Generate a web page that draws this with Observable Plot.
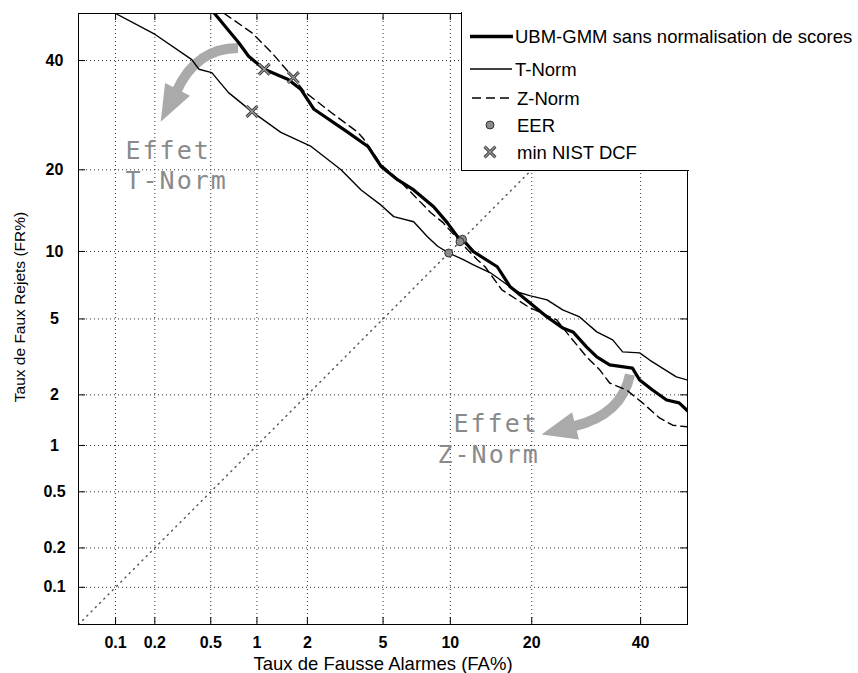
<!DOCTYPE html>
<html><head><meta charset="utf-8">
<script src="https://cdn.jsdelivr.net/npm/d3@7"></script>
<script src="https://cdn.jsdelivr.net/npm/@observablehq/plot@0.6"></script>
<style>
body{margin:0;background:#fff;}
#wrap{position:relative;width:858px;height:673px;overflow:hidden;}
#wrap > svg{position:absolute;left:0;top:0;}
#legendBox{position:absolute;left:461px;top:12px;width:227px;height:158px;background:#fff;border-left:1px solid #000;border-bottom:1px solid #000;}
#legendSvg{position:absolute;left:0;top:0;}
</style></head><body><div id="wrap"></div>
<script>
// ---- data (percent) ----
const tickValues = [0.1, 0.2, 0.5, 1, 2, 5, 10, 20, 40];
const tickLabels = ["0.1", "0.2", "0.5", "1", "2", "5", "10", "20", "40"];
const axisRange = [0.05, 50];

const ubmFA = [0.53, 0.764, 0.886, 1.11, 1.55, 1.84, 2.18, 3.33, 4.21, 4.89, 5.88, 6.95, 8.51, 9.71, 10.7, 11.2, 12.37, 15.2, 16.9, 19.7, 22.4, 25.0, 26.8, 29.3, 31.2, 33.7, 38.3, 39.8, 42.5, 45.5, 48.2, 50];
const ubmFR = [50, 43.8, 40.9, 38.2, 36.1, 34.1, 30.3, 26.1, 23.7, 20.5, 18.5, 17.1, 14.9, 13.0, 11.47, 11.2, 9.98, 8.63, 7.05, 5.96, 5.11, 4.52, 4.32, 3.62, 3.22, 2.92, 2.81, 2.42, 2.13, 1.87, 1.80, 1.62];

const tnormFA = [0.100, 0.201, 0.370, 0.415, 0.508, 0.657, 0.926, 1.40, 2.10, 3.06, 3.89, 4.89, 5.62, 6.95, 8.00, 8.85, 9.83, 11.29, 12.37, 14.35, 16.5, 18.25, 19.7, 22.4, 25.0, 28.0, 31.2, 34.3, 36.3, 39.8, 41.9, 44.6, 47.6, 50];
const tnormFR = [50, 45.5, 40.2, 38.2, 37.5, 33.5, 29.9, 26.1, 23.7, 20.0, 17.1, 15.1, 13.7, 13.1, 11.47, 10.5, 9.87, 9.24, 8.8, 8.13, 7.2, 6.63, 6.43, 6.15, 5.52, 5.11, 4.32, 3.94, 3.42, 3.38, 3.10, 2.81, 2.52, 2.42];

const znormFA = [0.616, 0.926, 1.23, 1.66, 1.92, 2.71, 3.75, 4.02, 4.89, 6.07, 8.25, 9.33, 10.95, 12.8, 13.7, 15.8, 19.7, 24.0, 26.3, 29.3, 31.8, 33.7, 37.1, 40.4, 44.0, 46.8, 50];
const znormFR = [50, 45.9, 41.7, 36.5, 33.7, 29.7, 26.1, 24.9, 20.8, 18.2, 14.2, 13.0, 10.95, 9.24, 8.63, 6.83, 5.65, 4.95, 4.08, 3.22, 2.74, 2.33, 2.13, 1.80, 1.47, 1.33, 1.30];

const eerSystems = ["UBM-GMM", "Z-Norm", "T-Norm"];
const eerValues = [11.2, 10.95, 9.85];
const dcfSystems = ["UBM-GMM", "Z-Norm", "T-Norm"];
const dcfFA = [1.11, 1.66, 0.93];
const dcfFR = [38.2, 36.5, 29.9];

const legendLabels = ["UBM-GMM sans normalisation de scores", "T-Norm", "Z-Norm", "EER", "min NIST DCF"];
const xTitle = "Taux de Fausse Alarmes (FA%)";
const yTitle = "Taux de Faux Rejets (FR%)";

// ---- normal deviate (probit) ----
function probit(p) {
  const a=[-3.969683028665376e+01,2.209460984245205e+02,-2.759285104469687e+02,1.383577518672690e+02,-3.066479806614716e+01,2.506628277459239e+00];
  const b=[-5.447609879822406e+01,1.615858368580409e+02,-1.556989798598866e+02,6.680131188771972e+01,-1.328068155288572e+01];
  const c=[-7.784894002430293e-03,-3.223964580411365e-01,-2.400758277161838e+00,-2.549732539343734e+00,4.374664141464968e+00,2.938163982698783e+00];
  const d=[7.784695709041462e-03,3.224671290700398e-01,2.445134137142996e+00,3.754408661907416e+00];
  const pl = 0.02425, ph = 1 - pl;
  let q, r;
  if (p < pl) { q = Math.sqrt(-2*Math.log(p)); return (((((c[0]*q+c[1])*q+c[2])*q+c[3])*q+c[4])*q+c[5])/((((d[0]*q+d[1])*q+d[2])*q+d[3])*q+1); }
  if (p <= ph) { q = p - 0.5; r = q*q; return (((((a[0]*r+a[1])*r+a[2])*r+a[3])*r+a[4])*r+a[5])*q/(((((b[0]*r+b[1])*r+b[2])*r+b[3])*r+b[4])*r+1); }
  q = Math.sqrt(-2*Math.log(1-p)); return -(((((c[0]*q+c[1])*q+c[2])*q+c[3])*q+c[4])*q+c[5])/((((d[0]*q+d[1])*q+d[2])*q+d[3])*q+1);
}
const pz = v => probit(v / 100);

const toRows = (fa, fr) => fa.map((v, i) => ({fa: v, fr: fr[i]}));
const ubm = toRows(ubmFA, ubmFR), tnorm = toRows(tnormFA, tnormFR), znorm = toRows(znormFA, znormFR);
const eer = eerValues.map((v, i) => ({sys: eerSystems[i], fa: v, fr: v}));
const dcf = dcfFA.map((v, i) => ({sys: dcfSystems[i], fa: v, fr: dcfFR[i]}));

const ticksZ = tickValues.map(pz);
const labelMap = new Map(ticksZ.map((z, i) => [z, tickLabels[i]]));

const W = 858, H = 673, mL = 78, mR = 171, mT = 13, mB = 49;
const innerW = W - mL - mR, innerH = H - mT - mB;
const X = d => pz(d.fa), Y = d => pz(d.fr);

const chart = Plot.plot({
  width: W, height: H,
  marginLeft: mL, marginRight: mR, marginTop: mT, marginBottom: mB,
  style: {background: "white", fontFamily: "Liberation Sans, Arial, sans-serif", color: "black"},
  x: {type: "linear", domain: axisRange.map(pz)},
  y: {type: "linear", domain: axisRange.map(pz)},
  marks: [
    Plot.ruleX(ticksZ, {stroke: "#333", strokeDasharray: "1,3"}),
    Plot.ruleY(ticksZ, {stroke: "#333", strokeDasharray: "1,3"}),
    Plot.line(axisRange, {x: pz, y: pz, stroke: "#555", strokeDasharray: "1,5"}),
    Plot.ruleX(ticksZ, {stroke: "black", insetTop: innerH - 7}),
    Plot.ruleX(ticksZ, {stroke: "black", insetBottom: innerH - 7}),
    Plot.ruleY(ticksZ, {stroke: "black", insetRight: innerW - 7}),
    Plot.ruleY(ticksZ, {stroke: "black", insetLeft: innerW - 7}),
    Plot.frame({stroke: "black"}),
    Plot.axisX(ticksZ, {tickSize: 0, tickPadding: 12, label: null, tickFormat: z => labelMap.get(z), fontSize: 16, fontWeight: "bold"}),
    Plot.axisY(ticksZ, {tickSize: 0, tickPadding: 24, textAnchor: "middle", label: null, tickFormat: z => labelMap.get(z), fontSize: 16, fontWeight: "bold"}),
    Plot.text([xTitle], {frameAnchor: "bottom", dy: 40, textAnchor: "middle", lineAnchor: "middle", text: d => d, fontSize: 18.5}),
    Plot.text([yTitle], {frameAnchor: "left", dx: -58, dy: -12, rotate: -90, textAnchor: "middle", lineAnchor: "middle", text: d => d, fontSize: 15.5}),
    Plot.text(["Effet\nT-Norm"], {frameAnchor: "top-left", dx: 47, dy: 124, textAnchor: "start", lineAnchor: "top", lineHeight: 1.2, text: d => d, fontFamily: "DejaVu Sans Mono", fontSize: 25, fill: "#8a8a8a"}),
    Plot.text(["Effet"], {frameAnchor: "top-left", dx: 375, dy: 401, textAnchor: "start", lineAnchor: "top", text: d => d, fontFamily: "DejaVu Sans Mono", fontSize: 25, fill: "#8a8a8a"}),
    Plot.text(["Z-Norm"], {frameAnchor: "top-left", dx: 359, dy: 432, textAnchor: "start", lineAnchor: "top", text: d => d, fontFamily: "DejaVu Sans Mono", fontSize: 25, fill: "#8a8a8a"}),
    Plot.line(tnorm, {x: X, y: Y, stroke: "black", strokeWidth: 1.4, clip: true}),
    Plot.line(znorm, {x: X, y: Y, stroke: "black", strokeWidth: 1.4, strokeDasharray: "8,5", clip: true}),
    Plot.line(ubm, {x: X, y: Y, stroke: "black", strokeWidth: 3.2, clip: true}),
    Plot.dot(eer, {x: X, y: Y, r: 4, fill: "#8c8c8c", stroke: "#333", strokeWidth: 1}),
    Plot.dot(dcf, {x: X, y: Y, r: 5, symbol: "times", stroke: "#333", strokeWidth: 3}),
    Plot.dot(dcf, {x: X, y: Y, r: 5, symbol: "times", stroke: "#999", strokeWidth: 1.3})
  ]
});

const wrap = document.getElementById("wrap");
wrap.appendChild(chart);

const svg = d3.select(chart);
svg.selectAll('g[font-family="DejaVu Sans Mono"]').attr("letter-spacing", "2px");

// ---- grey annotation arrows (positioned in data units through the plot's scales) ----
const arrowsPct = [
  {p0: [0.764, 42.5], c: [0.402, 42.5], p2: [0.291, 33.7], tip: [0.223, 27.9]},
  {p0: [37.9, 2.58], c: [36.3, 1.53], p2: [27.0, 1.30], tip: [21.6, 1.16]}
];
const sx = chart.scale("x"), sy = chart.scale("y");
const P = ([a, b]) => [sx.apply(pz(a)), sy.apply(pz(b))];
const ag = svg.insert("g", 'g[aria-label="line"]').attr("fill", "#aaa").attr("stroke", "none");
for (const ar of arrowsPct) {
  const p0 = P(ar.p0), c = P(ar.c), p2 = P(ar.p2), tip = P(ar.tip);
  ag.append("path").attr("d", `M${p0}Q${c} ${p2}`).attr("fill", "none").attr("stroke", "#aaa").attr("stroke-width", 10);
  const dx = tip[0] - p2[0], dy = tip[1] - p2[1], L = Math.hypot(dx, dy);
  const nx = -dy / L, ny = dx / L, bx = p2[0] - dx / L * 2, by = p2[1] - dy / L * 2;
  ag.append("path").attr("d", `M${tip}L${bx + nx * 14},${by + ny * 14}L${bx - nx * 14},${by - ny * 14}Z`);
}

// ---- legend box over the top-right corner ----
const box = document.createElement("div");
box.id = "legendBox";
wrap.appendChild(box);
const lg = d3.select(wrap).append("svg").attr("id", "legendSvg").attr("width", W).attr("height", H)
  .attr("font-family", "Liberation Sans, Arial, sans-serif").attr("font-size", 18.5);
const rows = [
  {y: 36.5, type: "thick"}, {y: 69, type: "thin"}, {y: 98, type: "dash"}, {y: 125, type: "eer"}, {y: 152, type: "dcf"}
];
rows.forEach((r, i) => {
  if (r.type === "thick") lg.append("line").attr("x1", 470).attr("x2", 513).attr("y1", r.y).attr("y2", r.y).attr("stroke", "#000").attr("stroke-width", 3.5);
  if (r.type === "thin") lg.append("line").attr("x1", 470).attr("x2", 512).attr("y1", r.y).attr("y2", r.y).attr("stroke", "#000").attr("stroke-width", 1.4);
  if (r.type === "dash") lg.append("line").attr("x1", 472).attr("x2", 510).attr("y1", r.y).attr("y2", r.y).attr("stroke", "#000").attr("stroke-width", 1.4).attr("stroke-dasharray", "9,5");
  if (r.type === "eer") lg.append("circle").attr("cx", 490).attr("cy", r.y).attr("r", 4).attr("fill", "#8c8c8c").attr("stroke", "#333");
  if (r.type === "dcf") {
    const s = d3.symbol(d3.symbolTimes, 5 * 5 * Math.PI)();
    lg.append("path").attr("d", s).attr("transform", `translate(490,${r.y})`).attr("fill", "none").attr("stroke", "#333").attr("stroke-width", 3);
    lg.append("path").attr("d", s).attr("transform", `translate(490,${r.y})`).attr("fill", "none").attr("stroke", "#999").attr("stroke-width", 1.3);
  }
  lg.append("text").attr("x", i < 2 ? 515 : 517).attr("y", r.y + 6.6).attr("fill", "#000").text(legendLabels[i]);
});
</script>
</body></html>
